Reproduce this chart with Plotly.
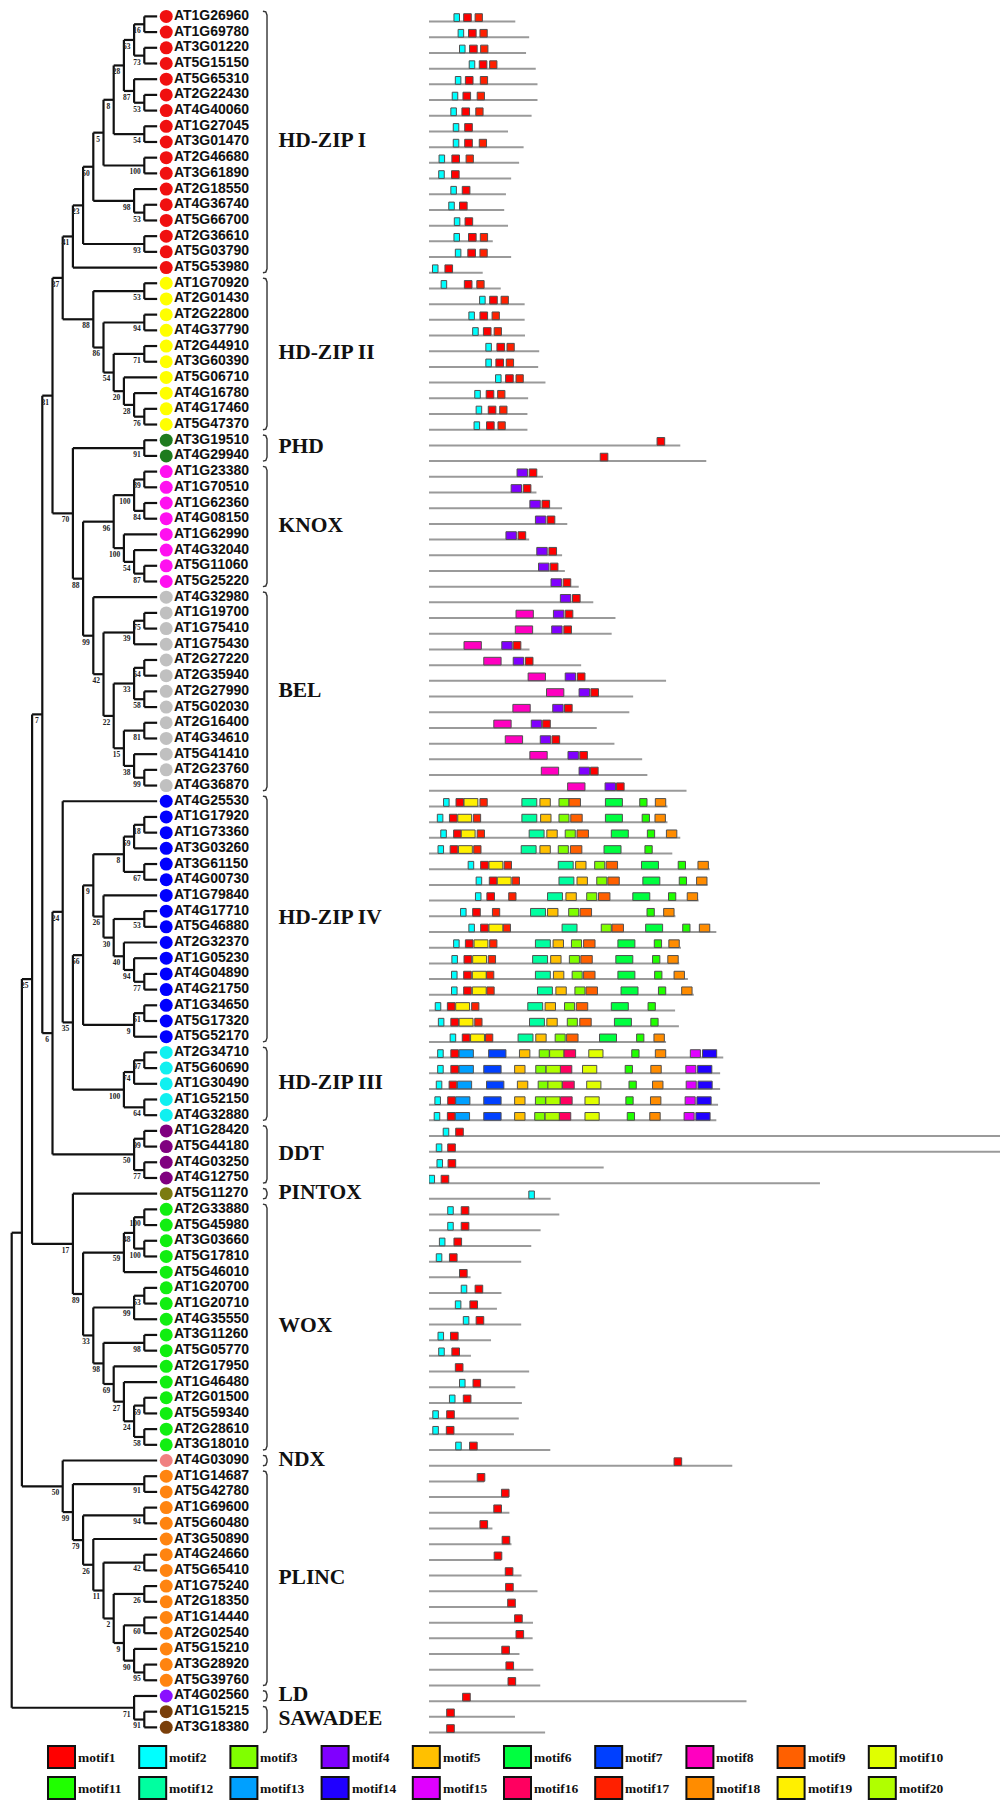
import plotly.graph_objects as go

# ---------------- tree topology (Newick, bootstrap values as internal labels) ----------------
HDZIP_I = "((((((((AT1G26960,AT1G69780)16,(AT3G01220,AT5G15150)73)63,(AT5G65310,(AT2G22430,AT4G40060)53)87)28,(AT1G27045,AT3G01470)54)8,(AT2G46680,AT3G61890)100)5,(AT2G18550,(AT4G36740,AT5G66700)53)98)50,(AT2G36610,AT5G03790)93)23,AT5G53980)41"
HDZIP_II = "((AT1G70920,AT2G01430)53,((AT2G22800,AT4G37790)94,((AT2G44910,AT3G60390)71,(AT5G06710,(AT4G16780,(AT4G17460,AT5G47370)76)28)20)54)86)88"
PHD = "(AT3G19510,AT4G29940)91"
KNOX = "(((AT1G23380,AT1G70510)89,(AT1G62360,AT4G08150)84)100,(AT1G62990,(AT4G32040,(AT5G11060,AT5G25220)87)54)100)96"
BEL = "(AT4G32980,(((AT1G19700,AT1G75410)75,AT1G75430)39,(((AT2G27220,AT2G35940)64,(AT2G27990,AT5G02030)58)33,((AT2G16400,AT4G34610)81,(AT5G41410,(AT2G23760,AT4G36870)99)38)15)22)42)99"
HDZIP_IV_A = "((((AT1G17920,AT1G73360)18,AT3G03260)59,(AT3G61150,AT4G00730)67)8,(AT1G79840,((AT4G17710,AT5G46880)53,(AT2G32370,(AT1G05230,(AT4G04890,AT4G21750)77)94)40)30)26)9"
HDZIP_IV_B = "((AT1G34650,AT5G17320)51,AT5G52170)9"
HDZIP_III = "(((AT2G34710,AT5G60690)97,AT1G30490)74,(AT1G52150,AT4G32880)64)100"
DDT = "((AT1G28420,AT5G44180)99,(AT4G03250,AT4G12750)77)50"
WOX = "((((AT2G33880,AT5G45980)100,(AT3G03660,AT5G17810)100)48,AT5G46010)59,(((AT1G20700,AT1G20710)53,AT4G35550)99,((AT3G11260,AT5G05770)98,(AT2G17950,(AT1G46480,((AT2G01500,AT5G59340)59,(AT2G28610,AT3G18010)58)24)27)69)98)33)89"
PLINC = "((AT1G14687,AT5G42780)91,((AT1G69600,AT5G60480)94,(AT3G50890,((AT4G24660,AT5G65410)42,((AT1G75240,AT2G18350)26,((AT1G14440,AT2G02540)60,(AT5G15210,(AT3G28920,AT5G39760)95)90)9)2)11)26)79)99"
LD_SAW = "(AT4G02560,(AT1G15215,AT3G18380)91)71"

CLADE_K = "((" + HDZIP_I + "," + HDZIP_II + ")37,(" + PHD + ",(" + KNOX + "," + BEL + ")88)70)31"
CLADE_F = "((AT4G25530,((" + HDZIP_IV_A + "," + HDZIP_IV_B + ")56," + HDZIP_III + ")35)24," + DDT + ")6"
CLADE_C = "(" + CLADE_K + "," + CLADE_F + ")7"
CLADE_H = "(AT5G11270," + WOX + ")17"
CLADE_G = "(" + CLADE_C + "," + CLADE_H + ")25"
CLADE_J = "(AT4G03090," + PLINC + ")50"
TREE = "((" + CLADE_G + "," + CLADE_J + ")," + LD_SAW + ");"

# ---------------- groups ----------------
GROUP_NAMES = ["HD-ZIP I", "HD-ZIP II", "PHD", "KNOX", "BEL", "HD-ZIP IV", "HD-ZIP III",
               "DDT", "PINTOX", "WOX", "NDX", "PLINC", "LD", "SAWADEE"]
GROUP_SIZES = [17, 10, 2, 8, 13, 16, 5, 4, 1, 16, 1, 14, 1, 2]
GROUP_COLORS = ["#F01010", "#FFFF00", "#1E7B1E", "#FF10F0", "#C0C0C0", "#0000FF", "#10F0F0",
                "#800080", "#7B7B10", "#11EE11", "#F08080", "#FF8410", "#8A10FF", "#7A3F0A"]

# ---------------- motifs ----------------
MOTIF_NAMES = ["motif1", "motif2", "motif3", "motif4", "motif5", "motif6", "motif7", "motif8",
               "motif9", "motif10", "motif11", "motif12", "motif13", "motif14", "motif15",
               "motif16", "motif17", "motif18", "motif19", "motif20"]
MOTIF_COLORS = ["#FF0000", "#00FFFF", "#80FF00", "#8000FF", "#FFC000", "#00FF40", "#0040FF",
                "#FF00C0", "#FF6000", "#E0FF00", "#20FF00", "#00FFA0", "#00A0FF", "#2000FF",
                "#E000FF", "#FF0060", "#FF2000", "#FF8C00", "#FFF000", "#B0FF00"]
MOTIF_WIDTH_AA = [22, 16, 29, 30, 30, 49, 50, 50, 33, 41, 21, 43, 41, 41, 29, 34, 21, 30, 40, 41]

# protein length (aa), in tree order
PROTEIN_LEN = [249, 289, 280, 308, 313, 313, 296, 228, 273, 260, 237, 222, 217, 228, 184, 237, 155,
               207, 276, 276, 277, 318, 315, 336, 286, 284, 284,
               725, 800,
               329, 310, 384, 399, 289, 384, 392, 432,
               474, 538, 527, 290, 439, 684, 589, 578, 484, 535, 615, 630, 743,
               688, 688, 725, 702, 810, 804, 778, 711, 829, 727, 722, 747, 764, 710, 721, 684,
               849, 840, 840, 834, 829,
               1760, 1760, 504, 1128,
               351,
               376, 322, 295, 266, 120, 209, 196, 266, 179, 121, 289, 249, 268, 259, 245, 350,
               875,
               159, 230, 232, 183, 238, 208, 267, 313, 251, 300, 299, 261, 301, 321,
               916, 248, 335]

# motif hits "motif:start" per protein, in tree order
MOTIF_HITS = [
    "2:72 1:100 17:133", "2:84 1:114 17:147", "2:88 1:117 17:149", "2:116 1:145 17:175",
    "2:76 1:105 17:148", "2:67 1:98 17:139", "2:63 1:95 17:135", "2:70 1:103",
    "2:70 1:103 17:145", "2:29 1:66 17:107", "2:28 1:65", "2:63 1:96", "2:57 1:88",
    "2:73 1:104", "2:72 1:114 17:148", "2:76 1:112 17:147", "2:10 1:46",
    "2:35 1:102 17:138", "2:146 1:175 17:208", "2:115 1:147 17:182", "2:126 1:157 17:188",
    "2:164 1:196 17:225", "2:164 1:193 17:223", "2:192 1:221 17:251", "2:132 1:165 17:198",
    "2:136 1:171 17:204", "2:130 1:166 17:199",
    "1:658", "1:494",
    "4:254 1:289", "4:237 1:272", "4:291 1:326", "4:307 1:341", "4:222 1:257",
    "4:311 1:346", "4:316 1:350", "4:352 1:387",
    "4:379 1:414", "8:251 4:359 1:393", "8:249 4:354 1:389", "8:101 4:210 1:243",
    "8:158 4:243 1:278", "8:286 4:393 1:428", "8:339 4:433 1:467", "8:242 4:357 1:391",
    "8:187 4:295 1:328", "8:220 4:321 1:355", "8:291 4:401 1:435", "8:324 4:433 1:466",
    "8:400 4:508 1:541",
    "2:42 1:78 19:101 17:147 12:268 5:320 3:375 9:404 6:509 11:608 18:653",
    "2:24 1:59 19:83 17:128 12:268 5:322 3:375 9:409 6:509 11:615 18:652",
    "2:34 1:71 19:93 17:139 12:289 5:340 3:393 9:427 6:526 11:630 18:685",
    "2:26 1:61 19:85 17:129 12:266 5:320 3:373 9:408 6:505 11:623",
    "2:113 1:149 19:173 17:217 12:373 5:423 3:478 9:511 6:613 11:719 18:776",
    "2:136 1:174 19:197 17:240 12:375 5:427 3:484 9:516 6:617 11:722 18:772",
    "2:134 1:167 17:230 12:342 5:395 3:455 9:489 6:588 11:691 18:745",
    "2:91 1:126 17:183 12:293 5:342 3:403 9:436 11:629 18:677",
    "2:115 1:149 19:173 17:214 12:384 3:497 9:528 6:625 11:732 18:780",
    "2:71 1:105 19:130 17:175 12:307 5:358 3:411 9:446 6:545 11:650 18:692",
    "2:66 1:101 19:126 17:171 12:299 5:351 3:405 9:438 6:539 11:645 18:689",
    "2:65 1:100 19:125 17:166 12:307 5:359 3:413 9:446 6:545 11:651 18:707",
    "2:65 1:100 19:125 17:167 12:313 5:366 3:421 9:453 6:554 11:662 18:729",
    "2:18 1:53 19:77 17:123 12:285 5:335 3:391 9:425 6:526 11:632",
    "2:27 1:63 19:87 17:132 12:290 5:340 3:399 9:435 6:535 11:640",
    "2:61 1:96 19:120 17:163 12:257 5:308 3:364 9:397 6:492 11:599 18:649",
    "2:25 1:63 13:87 7:172 5:261 3:318 20:348 16:389 10:461 11:585 18:653 15:754 14:789",
    "2:25 1:63 13:87 7:158 5:247 3:308 20:338 16:378 10:443 11:566 18:640 15:741 14:775",
    "2:21 1:58 13:82 7:166 5:255 3:315 20:343 16:385 10:455 11:577 18:645 15:742 14:776",
    "2:17 1:54 13:77 7:158 5:247 3:307 20:337 16:379 10:450 11:568 18:639 15:739 14:773",
    "2:15 1:53 13:76 7:158 5:247 3:305 20:335 16:375 10:450 11:572 18:637 15:736 14:770",
    "2:41 1:77", "2:21 1:54", "2:23 1:55", "2:0 1:35",
    "2:288",
    "2:54 1:93", "2:54 1:93", "2:30 1:72", "2:21 1:59", "1:88", "2:93 1:133", "2:76 1:118",
    "2:99 1:136", "2:26 1:62", "2:28 1:66", "1:76", "2:88 1:127", "2:59 1:99", "2:11 1:51",
    "2:11 1:50", "2:77 1:117",
    "1:707",
    "1:139", "1:209", "1:187", "1:147", "1:211", "1:188", "1:220", "1:221", "1:227",
    "1:247", "1:251", "1:210", "1:222", "1:228",
    "1:97", "1:51", "1:51",
]

# ---------------- layout constants (pixels of the 1008x1800 page) ----------------
PAGE_W, PAGE_H = 1008, 1800
BODY = 8                                   # default page margin around the plot div
W, H = PAGE_W - BODY, PAGE_H - BODY        # figure size
ROW0_PX, ROW_PX = 16.4, 15.697
NODE1_PX, LEVEL_PX = 144.3, 10.2
MOTIF_X0_PX, PX_PER_AA = 429.0, 0.3466


def parse_newick(s):
    pos = 0

    def node():
        nonlocal pos
        if s[pos] == "(":
            pos += 1
            kids = [node()]
            while s[pos] == ",":
                pos += 1
                kids.append(node())
            pos += 1  # ')'
            st = pos
            while s[pos] not in ",();":
                pos += 1
            return {"children": kids, "label": s[st:pos]}
        st = pos
        while s[pos] not in ",();":
            pos += 1
        return {"name": s[st:pos]}

    return node()


root = parse_newick(TREE)
leaves = []


def place(n):
    if "name" in n:
        n["y"] = len(leaves)
        n["h"] = 0
        leaves.append(n)
        return
    for c in n["children"]:
        place(c)
    n["h"] = 1 + max(c["h"] for c in n["children"])
    n["y"] = (n["children"][0]["y"] + n["children"][-1]["y"]) / 2


place(root)
assert len(leaves) == sum(GROUP_SIZES) == len(PROTEIN_LEN) == len(MOTIF_HITS)

LEAF_TIP = 0.26  # leaf branch tip, in level units beyond the leaves


def nx(n):
    return LEAF_TIP if "name" in n else -n["h"]


tx, ty, bx, by, bt = [], [], [], [], []


def draw(n):
    if "name" in n:
        return
    x = nx(n)
    ys = [c["y"] for c in n["children"]]
    tx.extend([x, x, None])
    ty.extend([min(ys), max(ys), None])
    for c in n["children"]:
        tx.extend([x, nx(c), None])
        ty.extend([c["y"], c["y"], None])
        draw(c)
    if n["label"]:
        bx.append(x - 0.35)
        by.append(n["y"] + 0.45)
        bt.append(n["label"])


draw(root)

fig = go.Figure()
fig.add_trace(go.Scatter(x=tx, y=ty, mode="lines", line=dict(color="#111111", width=2.2),
                         hoverinfo="skip", cliponaxis=False))
fig.add_trace(go.Scatter(x=bx, y=by, mode="text", text=bt, textposition="middle left",
                         textfont=dict(family="Liberation Serif", size=7.5, color="#222222",
                                       weight="bold"), hoverinfo="skip", cliponaxis=False))

# leaf colours
leaf_cols = []
for gi, sz in enumerate(GROUP_SIZES):
    leaf_cols += [GROUP_COLORS[gi]] * sz
rows = [lf["y"] for lf in leaves]
names = [lf["name"] for lf in leaves]
CIRCLE_X, LABEL_X = 1.15, 1.9
fig.add_trace(go.Scatter(x=[CIRCLE_X] * len(rows), y=rows, mode="markers",
                         marker=dict(size=13, color=leaf_cols, line=dict(width=0)),
                         hoverinfo="skip", cliponaxis=False))
fig.add_trace(go.Scatter(x=[LABEL_X] * len(rows), y=rows, mode="text", text=names,
                         textposition="middle right",
                         textfont=dict(family="Liberation Sans", size=14.0, color="#111111",
                                       weight="bold"), hoverinfo="skip", cliponaxis=False))

# brackets and group names
BR_X, GL_X = 11.03, 12.15
brx, bry, gx, gy = [], [], [], []
start = 0
for gi, sz in enumerate(GROUP_SIZES):
    top, bot = start - 0.33, start + sz - 1 + 0.33
    brx += [BR_X - 0.4, BR_X - 0.12, BR_X, BR_X, BR_X - 0.12, BR_X - 0.4, None]
    bry += [top, top + 0.04, top + 0.25, bot - 0.25, bot - 0.04, bot, None]
    gx.append(GL_X)
    gy.append(start + (sz - 1) / 2)
    start += sz
fig.add_trace(go.Scatter(x=brx, y=bry, mode="lines", line=dict(color="#333333", width=1.4),
                         hoverinfo="skip", cliponaxis=False))
fig.add_trace(go.Scatter(x=gx, y=gy, mode="text", text=GROUP_NAMES, textposition="middle right",
                         textfont=dict(family="Liberation Serif", size=21.5, color="#111111",
                                       weight="bold"), hoverinfo="skip", cliponaxis=False))

# protein backbones
LINE_DY = 0.33
lx, ly = [], []
for r, L in zip(rows, PROTEIN_LEN):
    lx += [0, L, None]
    ly += [r + LINE_DY, r + LINE_DY, None]
fig.add_trace(go.Scatter(x=lx, y=ly, mode="lines", line=dict(color="#9a9a9a", width=2),
                         xaxis="x2", yaxis="y", hoverinfo="skip"))

# motif boxes
BOX_TOP, BOX_BOT = -0.17, 0.32
polys = {m: ([], []) for m in range(1, 21)}
for r, hits in zip(rows, MOTIF_HITS):
    for tok in hits.split():
        m, s0 = tok.split(":")
        m, s0 = int(m), float(s0)
        w = MOTIF_WIDTH_AA[m - 1]
        px_, py_ = polys[m]
        px_ += [s0, s0 + w, s0 + w, s0, s0, None]
        py_ += [r + BOX_BOT, r + BOX_BOT, r + BOX_TOP, r + BOX_TOP, r + BOX_BOT, None]
for m in range(1, 21):
    px_, py_ = polys[m]
    if not px_:
        continue
    fig.add_trace(go.Scatter(x=px_, y=py_, mode="lines", fill="toself",
                             fillcolor=MOTIF_COLORS[m - 1],
                             line=dict(color="#505050", width=1),
                             xaxis="x2", yaxis="y", hoverinfo="skip"))

# motif legend (two rows of ten), positions in page pixels
LEG_X0, LEG_DX, LEG_BW = 48, 91.2, 27
LEG_ROWS = [(1746, 1768), (1777, 1799)]


def px_x(p):
    return (p - BODY) / W


def px_y(p):
    return 1 - (p - BODY) / H


for k, (nm, col) in enumerate(zip(MOTIF_NAMES, MOTIF_COLORS)):
    r, c = divmod(k, 10)
    x0 = LEG_X0 + c * LEG_DX
    y0, y1 = LEG_ROWS[r]
    fig.add_shape(type="rect", xref="paper", yref="paper",
                  x0=px_x(x0), x1=px_x(x0 + LEG_BW), y0=px_y(y1), y1=px_y(y0),
                  fillcolor=col, line=dict(color="#111111", width=2))
    fig.add_annotation(xref="paper", yref="paper", x=px_x(x0 + LEG_BW + 1),
                       y=px_y((y0 + y1) / 2), text=nm, showarrow=False,
                       xanchor="left", yanchor="middle",
                       font=dict(family="Liberation Serif", size=13.5, color="#111111",
                                 weight="bold"))

x_lo = (BODY - NODE1_PX - LEVEL_PX) / LEVEL_PX
x_hi = (PAGE_W - NODE1_PX - LEVEL_PX) / LEVEL_PX
fig.update_layout(
    width=W, height=H, margin=dict(l=0, r=0, t=0, b=0),
    paper_bgcolor="white", plot_bgcolor="rgba(0,0,0,0)", showlegend=False,
    xaxis=dict(domain=[0, 1], range=[x_lo, x_hi], visible=False, fixedrange=True),
    xaxis2=dict(domain=[px_x(MOTIF_X0_PX), 1], range=[0, (PAGE_W - MOTIF_X0_PX) / PX_PER_AA],
                visible=False, anchor="y", fixedrange=True),
    yaxis=dict(domain=[0, 1], range=[(PAGE_H - ROW0_PX) / ROW_PX, (BODY - ROW0_PX) / ROW_PX],
               visible=False, fixedrange=True),
)
fig.write_html("out.html")
